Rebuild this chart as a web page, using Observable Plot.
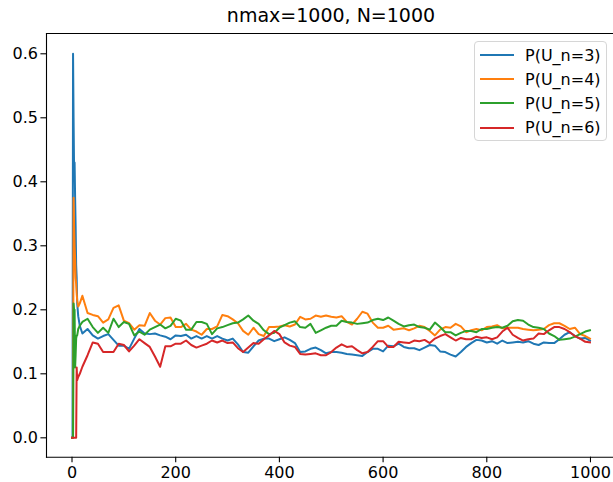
<!DOCTYPE html>
<html>
<head>
<meta charset="utf-8">
<script src="https://cdn.jsdelivr.net/npm/d3@7"></script>
<script src="https://cdn.jsdelivr.net/npm/@observablehq/plot@0.6"></script>
<style>
  html, body { margin: 0; padding: 0; background: #fff; overflow: hidden; }
  body { width: 613px; height: 482px; position: relative; font-family: "DejaVu Sans", sans-serif; }
  #title { position: absolute; left: 46px; width: 570px; top: 0; height: 28px; line-height: 30px; text-align: center; font-size: 19px; color: #000; }
  #chart { position: absolute; left: 0; top: 28px; }
  #legend { position: absolute; left: 474px; top: 41px; width: 131px; height: 98px; border: 1px solid #d6d6d6; border-radius: 4px; background: rgba(255,255,255,0.85); box-sizing: content-box; }
  .row { position: absolute; left: 0; height: 24px; display: flex; align-items: center; font-size: 16px; color: #000; }
  .row svg { margin-left: 5px; margin-right: 11px; }
</style>
</head>
<body>
<div id="title"></div>
<div id="chart"></div>
<div id="legend"></div>
<script>
const titleText = "nmax=1000, N=1000";
const seriesLabels = ["P(U_n=3)", "P(U_n=4)", "P(U_n=5)", "P(U_n=6)"];
const seriesColors = ["#1f77b4", "#ff7f0e", "#2ca02c", "#d62728"];
const xTicks = [0, 200, 400, 600, 800, 1000];
const yTicks = [0, 0.1, 0.2, 0.3, 0.4, 0.5, 0.6];

const steps = [0,1,2,3,4,5,6,7,8,9,10,12,15,20,
  30,40,50,60,70,80,90,100,110,120,130,140,150,160,170,180,190,
  200,210,220,230,240,250,260,270,280,290,300,310,320,330,340,350,360,370,380,390,
  400,410,420,430,440,450,460,470,480,490,500,510,520,530,540,550,560,570,580,590,
  600,610,620,630,640,650,660,670,680,690,700,710,720,730,740,750,760,770,780,790,
  800,810,820,830,840,850,860,870,880,890,900,910,920,930,940,950,960,970,980,990,999];

const pU3 = [0,0,0.6,0.5,0.42,0.43,0.375,0.33,0.27,0.25,0.21,0.19,0.175,0.163,
  0.170,0.160,0.155,0.159,0.162,0.153,0.144,0.144,0.139,0.155,0.170,0.163,0.162,0.163,0.160,0.158,0.154,
  0.160,0.159,0.161,0.155,0.159,0.155,0.159,0.155,0.159,0.155,0.152,0.155,0.146,0.134,0.133,0.143,0.152,0.155,0.155,0.151,
  0.154,0.157,0.153,0.148,0.134,0.135,0.139,0.141,0.137,0.132,0.134,0.134,0.133,0.131,0.130,0.129,0.128,0.134,0.139,0.139,
  0.135,0.144,0.143,0.147,0.142,0.140,0.140,0.137,0.141,0.145,0.144,0.135,0.134,0.130,0.127,0.134,0.142,0.148,0.153,0.152,
  0.149,0.151,0.147,0.152,0.148,0.149,0.150,0.149,0.151,0.147,0.145,0.149,0.148,0.148,0.154,0.161,0.165,0.159,0.155,0.156,0.152];

const pU4 = [0,0,0,0.375,0.33,0.3,0.28,0.25,0.24,0.225,0.215,0.205,0.21,0.222,
  0.195,0.192,0.190,0.180,0.185,0.203,0.207,0.183,0.179,0.169,0.176,0.175,0.195,0.183,0.177,0.187,0.188,
  0.173,0.173,0.178,0.169,0.166,0.161,0.170,0.170,0.174,0.192,0.190,0.185,0.179,0.167,0.161,0.172,0.162,0.159,0.173,0.173,
  0.174,0.176,0.174,0.177,0.189,0.185,0.186,0.191,0.189,0.191,0.189,0.188,0.190,0.181,0.177,0.186,0.197,0.194,0.180,0.172,
  0.172,0.175,0.169,0.170,0.171,0.168,0.171,0.175,0.173,0.167,0.160,0.169,0.173,0.172,0.178,0.174,0.165,0.168,0.170,0.168,
  0.173,0.174,0.176,0.171,0.172,0.172,0.172,0.170,0.169,0.168,0.169,0.170,0.176,0.179,0.179,0.175,0.170,0.172,0.162,0.159,0.155];

const pU5 = [0,0,0,0.21,0.2,0.2,0.11,0.13,0.155,0.16,0.16,0.17,0.175,0.181,
  0.186,0.173,0.164,0.172,0.164,0.186,0.173,0.181,0.178,0.160,0.166,0.161,0.169,0.173,0.177,0.171,0.175,
  0.186,0.183,0.169,0.169,0.181,0.181,0.178,0.162,0.171,0.173,0.176,0.179,0.180,0.185,0.191,0.183,0.178,0.168,0.162,0.164,
  0.172,0.176,0.180,0.182,0.173,0.172,0.178,0.164,0.168,0.172,0.175,0.175,0.183,0.181,0.180,0.178,0.179,0.180,0.184,0.186,
  0.184,0.188,0.183,0.178,0.174,0.176,0.177,0.173,0.172,0.169,0.180,0.173,0.165,0.165,0.160,0.164,0.167,0.167,0.165,0.170,
  0.170,0.172,0.173,0.172,0.175,0.182,0.184,0.183,0.177,0.173,0.172,0.170,0.163,0.159,0.153,0.154,0.155,0.158,0.162,0.166,0.168];

const pU6 = [0,0,0,0,0,0,0,0,0,0.11,0.09,0.095,0.10,0.111,
  0.129,0.149,0.147,0.134,0.134,0.134,0.147,0.145,0.135,0.144,0.154,0.148,0.142,0.127,0.111,0.143,0.143,
  0.147,0.147,0.152,0.145,0.141,0.144,0.147,0.152,0.149,0.152,0.148,0.149,0.140,0.134,0.141,0.148,0.147,0.154,0.160,0.167,
  0.162,0.149,0.144,0.142,0.131,0.130,0.131,0.132,0.129,0.129,0.134,0.141,0.146,0.142,0.143,0.137,0.132,0.134,0.142,0.151,
  0.151,0.142,0.142,0.150,0.149,0.148,0.152,0.151,0.153,0.148,0.155,0.159,0.162,0.157,0.152,0.156,0.154,0.154,0.158,0.156,
  0.157,0.154,0.157,0.166,0.172,0.161,0.156,0.152,0.154,0.155,0.163,0.162,0.168,0.173,0.173,0.170,0.165,0.159,0.155,0.150,0.149];

const seriesValues = [pU3, pU4, pU5, pU6];

document.getElementById("title").textContent = titleText;

const lineMarks = seriesValues.map((vals, i) =>
  Plot.line(steps.map((n, j) => ({n, v: vals[j]})), {
    x: "n", y: "v", stroke: seriesColors[i], strokeWidth: 2,
    strokeLinejoin: "round", strokeLinecap: "square"
  })
);

const chart = Plot.plot({
  width: 613,
  height: 454,
  marginLeft: 46,
  marginRight: 0,
  marginTop: 5,
  marginBottom: 25.3,
  style: { fontFamily: "DejaVu Sans, sans-serif", fontSize: "16px", color: "#000", background: "transparent", overflow: "visible" },
  x: { domain: [-49.2, 1044.4], ticks: xTicks, tickFormat: d => String(d), tickSize: 5.6, tickPadding: 3, label: null },
  y: { domain: [-0.0303, 0.6317], ticks: yTicks, tickFormat: d3.format(".1f"), tickSize: 5.6, tickPadding: 3, label: null },
  marks: [
    ...lineMarks,
    Plot.axisX({ticks: xTicks, tickFormat: d => String(d), tickSize: 5.6, tickPadding: 4, label: null, stroke: "#000", strokeWidth: 1.1, fontSize: 16}),
    Plot.axisY({ticks: yTicks, tickFormat: d3.format(".1f"), tickSize: 5.6, tickPadding: 3, label: null, stroke: "#000", strokeWidth: 1.1, fontSize: 16}),
    Plot.frame({anchor: "left", stroke: "#000", strokeWidth: 1.1}),
    Plot.frame({anchor: "top", stroke: "#000", strokeWidth: 1.1}),
    Plot.frame({anchor: "bottom", stroke: "#000", strokeWidth: 1.1})
  ]
});
document.getElementById("chart").appendChild(chart);

const legend = document.getElementById("legend");
seriesLabels.forEach((label, i) => {
  const row = document.createElement("div");
  row.className = "row";
  row.style.top = (1 + i * 24.2) + "px";
  row.innerHTML = `<svg width="34" height="4"><line x1="0" y1="2" x2="34" y2="2" stroke="${seriesColors[i]}" stroke-width="2"/></svg><span></span>`;
  row.querySelector("span").textContent = label;
  legend.appendChild(row);
});
</script>
</body>
</html>
